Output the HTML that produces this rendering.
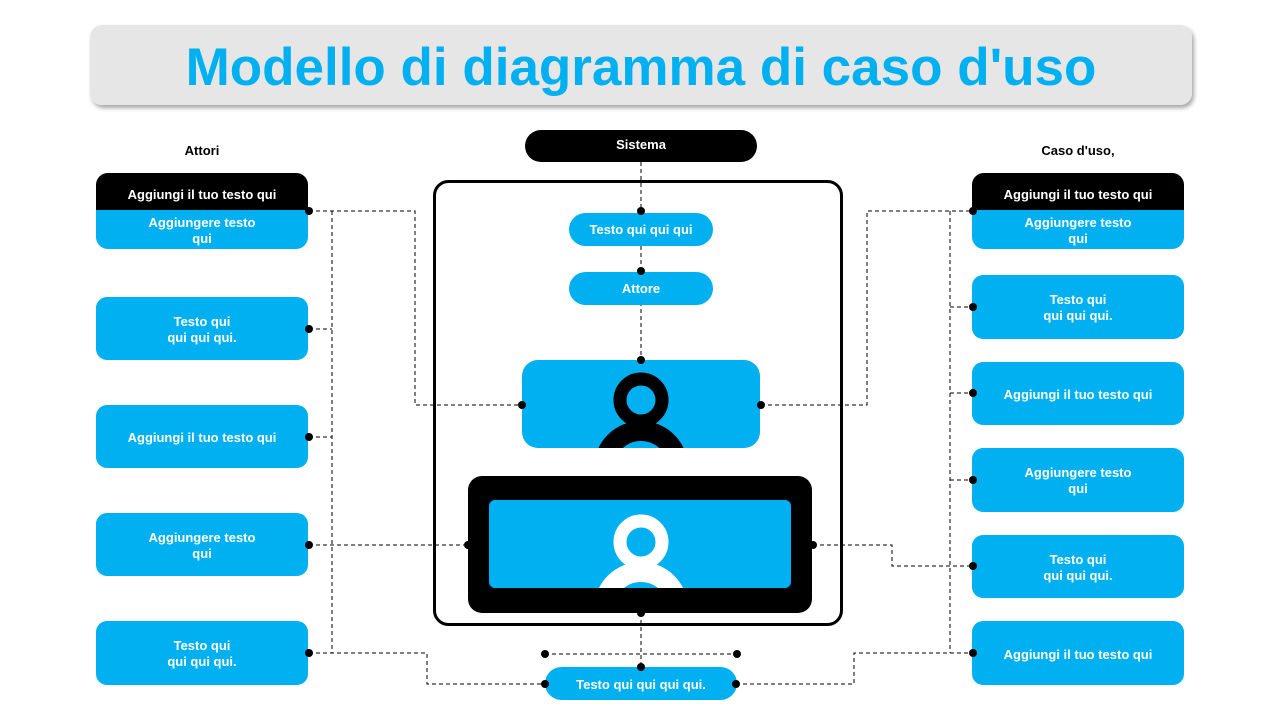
<!DOCTYPE html>
<html><head><meta charset="utf-8"><style>
body{margin:0;background:#fff;}
svg text{font-family:"Liberation Sans",sans-serif;font-weight:bold;}
</style></head><body>
<svg width="1280" height="720" viewBox="0 0 1280 720" xmlns="http://www.w3.org/2000/svg">
<defs>
<filter id="sh" x="-5%" y="-20%" width="110%" height="150%"><feDropShadow dx="2" dy="3" stdDeviation="2" flood-color="#000" flood-opacity="0.35"/></filter>
<clipPath id="c1"><rect x="522" y="360" width="238" height="88"/></clipPath>
<clipPath id="c2"><rect x="489" y="500" width="302" height="88"/></clipPath>
<clipPath id="hb"><rect x="96" y="173" width="212" height="76" rx="12"/></clipPath>
<clipPath id="hb2"><rect x="972" y="173" width="212" height="76" rx="12"/></clipPath>
</defs>
<rect x="90" y="25" width="1102" height="80" rx="12" fill="#e6e6e6" filter="url(#sh)"/>
<text x="641" y="85" text-anchor="middle" font-size="53" fill="#00b0f0">Modello di diagramma di caso d'uso</text>

<text x="202" y="155" text-anchor="middle" font-size="13" fill="#000">Attori</text>
<text x="1078" y="155" text-anchor="middle" font-size="13" fill="#000">Caso d'uso,</text>

<g fill="none" stroke="#000" stroke-width="1" stroke-dasharray="4,3">
<path d="M309 211H415V405H522"/>
<path d="M332 211V653"/>
<path d="M309 329H332M309 437H332M309 545H468M309 653H427V684H545"/>
<path d="M761 405H867V211H973"/>
<path d="M950 211V653"/>
<path d="M950 307H973M950 393H973M950 480H973M813 545H892V566H973M736 684H854V653H973"/>
<path d="M641 162V360M641 613V667M545 654H737"/>
</g>

<g clip-path="url(#hb)"><rect x="96" y="173" width="212" height="76" fill="#00b0f0"/><rect x="96" y="173" width="212" height="37" fill="#000"/></g>
<g fill="#00b0f0">
<rect x="96" y="297" width="212" height="63" rx="11"/>
<rect x="96" y="405" width="212" height="63" rx="11"/>
<rect x="96" y="513" width="212" height="63" rx="11"/>
<rect x="96" y="621" width="212" height="64" rx="11"/>
</g>
<g clip-path="url(#hb2)"><rect x="972" y="173" width="212" height="76" fill="#00b0f0"/><rect x="972" y="173" width="212" height="37" fill="#000"/></g>
<g fill="#00b0f0">
<rect x="972" y="275" width="212" height="64" rx="11"/>
<rect x="972" y="362" width="212" height="63" rx="11"/>
<rect x="972" y="448" width="212" height="64" rx="11"/>
<rect x="972" y="535" width="212" height="63" rx="11"/>
<rect x="972" y="621" width="212" height="64" rx="11"/>
</g>

<rect x="525" y="130" width="232" height="32" rx="16" fill="#000"/>
<rect x="434.5" y="181.5" width="407" height="443" rx="14" fill="none" stroke="#000" stroke-width="3"/>
<rect x="569" y="213" width="144" height="33" rx="16.5" fill="#00b0f0"/>
<rect x="569" y="272" width="144" height="33" rx="16.5" fill="#00b0f0"/>
<rect x="522" y="360" width="238" height="88" rx="16" fill="#00b0f0"/>
<g clip-path="url(#c1)" fill="none" stroke="#000">
<circle cx="641" cy="400" r="21" stroke-width="13"/>
<circle cx="641" cy="468" r="37" stroke-width="20"/>
</g>
<rect x="468" y="476" width="344" height="137" rx="14" fill="#000"/>
<rect x="489" y="500" width="302" height="88" rx="6" fill="#00b0f0"/>
<g clip-path="url(#c2)" fill="none" stroke="#fff">
<circle cx="641" cy="542" r="21" stroke-width="13"/>
<circle cx="641" cy="609" r="37" stroke-width="20"/>
</g>
<rect x="545" y="667" width="192" height="33" rx="16.5" fill="#00b0f0"/>

<g fill="#000">
<circle cx="309" cy="211" r="4"/><circle cx="309" cy="329" r="4"/><circle cx="309" cy="437" r="4"/><circle cx="309" cy="545" r="4"/><circle cx="309" cy="653" r="4"/>
<circle cx="973" cy="211" r="4"/><circle cx="973" cy="307" r="4"/><circle cx="973" cy="393" r="4"/><circle cx="973" cy="480" r="4"/><circle cx="973" cy="566" r="4"/><circle cx="973" cy="653" r="4"/>
<circle cx="641" cy="211" r="4"/><circle cx="641" cy="271" r="4"/><circle cx="641" cy="360" r="4"/>
<circle cx="522" cy="405" r="4"/><circle cx="761" cy="405" r="4"/>
<circle cx="468" cy="545" r="4"/><circle cx="813" cy="545" r="4"/>
<circle cx="641" cy="613" r="4"/><circle cx="641" cy="667" r="4"/>
<circle cx="545" cy="654" r="4"/><circle cx="737" cy="654" r="4"/>
<circle cx="545" cy="684" r="4"/><circle cx="736" cy="684" r="4"/>
</g>

<g font-size="13" fill="#fff" text-anchor="middle">
<text x="641" y="149">Sistema</text>
<text x="641" y="234">Testo qui qui qui</text>
<text x="641" y="293">Attore</text>
<text x="641" y="689">Testo qui qui qui qui.</text>
<text x="202" y="199">Aggiungi il tuo testo qui</text>
<text x="202" y="227">Aggiungere testo</text><text x="202" y="243">qui</text>
<text x="202" y="326">Testo qui</text><text x="202" y="342">qui qui qui.</text>
<text x="202" y="442">Aggiungi il tuo testo qui</text>
<text x="202" y="542">Aggiungere testo</text><text x="202" y="558">qui</text>
<text x="202" y="650">Testo qui</text><text x="202" y="666">qui qui qui.</text>
<text x="1078" y="199">Aggiungi il tuo testo qui</text>
<text x="1078" y="227">Aggiungere testo</text><text x="1078" y="243">qui</text>
<text x="1078" y="304">Testo qui</text><text x="1078" y="320">qui qui qui.</text>
<text x="1078" y="399">Aggiungi il tuo testo qui</text>
<text x="1078" y="477">Aggiungere testo</text><text x="1078" y="493">qui</text>
<text x="1078" y="564">Testo qui</text><text x="1078" y="580">qui qui qui.</text>
<text x="1078" y="659">Aggiungi il tuo testo qui</text>
</g>
</svg>
</body></html>
